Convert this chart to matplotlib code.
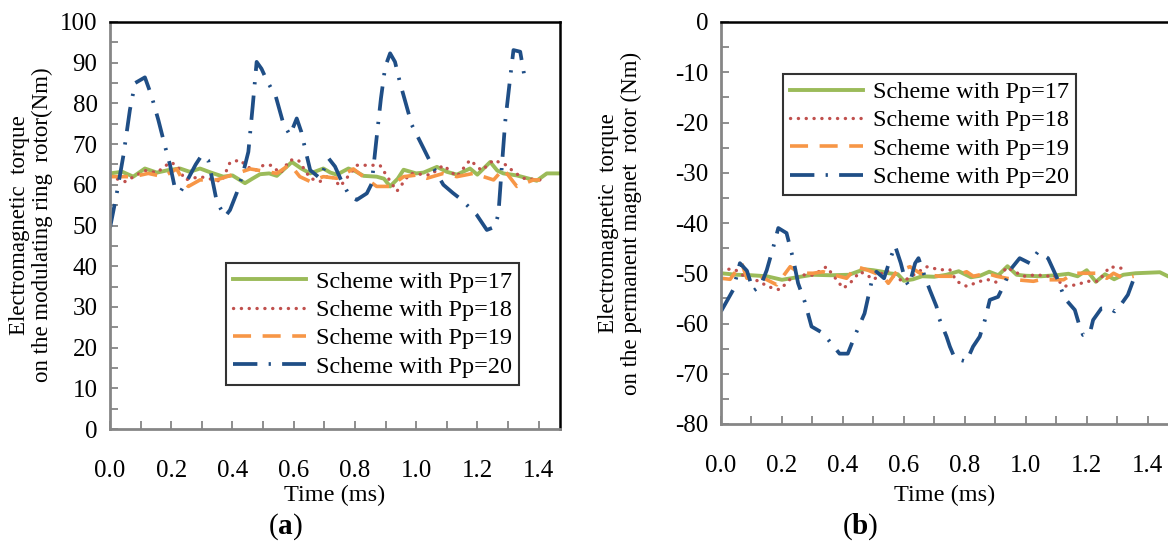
import numpy as np
import matplotlib
matplotlib.use('Agg')
import matplotlib.pyplot as plt
from matplotlib.ticker import MultipleLocator, FuncFormatter

plt.rcParams['font.family'] = ['Liberation Serif', 'DejaVu Serif']
plt.rcParams['mathtext.fontset'] = 'custom'
plt.rcParams['mathtext.rm'] = 'Liberation Serif'
plt.rcParams['mathtext.bf'] = 'Liberation Serif:bold'

labels = ['Scheme with Pp=17', 'Scheme with Pp=18', 'Scheme with Pp=19', 'Scheme with Pp=20']
colors = ['#9BBB59', '#C0504D', '#F79646', '#1F4E86']

# (a) torque on the modulating ring rotor
a17_t = [0.0, 0.04, 0.076, 0.114, 0.153, 0.19, 0.229, 0.26, 0.294, 0.33, 0.37, 0.40, 0.441, 0.465,
         0.49, 0.52, 0.545, 0.594, 0.625, 0.654, 0.697, 0.72, 0.741, 0.779, 0.80, 0.828, 0.871, 0.895,
         0.915, 0.94, 0.959, 1.0, 1.024, 1.068, 1.10, 1.133, 1.176, 1.2, 1.242, 1.265, 1.285, 1.329,
         1.394, 1.427, 1.47]
a17_v = [62.8, 63.2, 62.0, 64.0, 63.0, 63.6, 64.0, 63.2, 64.0, 63.0, 62.0, 62.3, 60.4, 61.5,
         62.6, 62.8, 62.2, 65.6, 64.0, 62.8, 64.0, 63.0, 62.5, 64.0, 63.4, 62.2, 62.0, 61.5,
         59.6, 61.5, 63.7, 62.8, 63.0, 64.4, 63.2, 62.5, 64.0, 62.5, 65.6, 63.5, 62.8, 62.3,
         61.0, 62.8, 62.8]
a18_t = [0.0, 0.049, 0.114, 0.153, 0.196, 0.218, 0.245, 0.294, 0.365, 0.392, 0.425, 0.447, 0.474,
         0.501, 0.528, 0.556, 0.588, 0.615, 0.654, 0.686, 0.719, 0.752, 0.806, 0.839, 0.882, 0.91,
         0.937, 0.98, 1.046, 1.089, 1.133, 1.176, 1.214, 1.253, 1.296, 1.318, 1.351, 1.405]
a18_v = [62.0, 60.8, 63.5, 63.0, 65.5, 64.9, 61.2, 62.0, 60.8, 65.5, 66.1, 64.5, 63.5,
         64.8, 64.8, 62.8, 66.1, 66.1, 61.6, 60.8, 62.5, 59.6, 64.8, 64.8, 64.8, 61.5,
         58.4, 62.8, 62.4, 64.8, 62.0, 66.1, 63.5, 66.1, 64.8, 63.2, 61.6, 61.2]
a19_t = [0.0, 0.076, 0.125, 0.174, 0.218, 0.24, 0.256, 0.294, 0.348, 0.414, 0.458, 0.49, 0.545,
         0.588, 0.62, 0.654, 0.697, 0.741, 0.795, 0.828, 0.871, 0.915, 0.959, 1.002, 1.035, 1.089,
         1.133, 1.187, 1.22, 1.253, 1.285, 1.329, 1.383, 1.405]
a19_v = [62.0, 62.0, 62.8, 62.0, 63.9, 60.8, 59.6, 61.2, 61.2, 62.8, 63.9, 63.5, 62.8,
         65.0, 62.0, 60.8, 62.0, 61.6, 63.9, 62.0, 59.6, 59.6, 62.0, 62.4, 61.6, 62.8,
         62.0, 62.8, 62.0, 61.2, 63.9, 59.6, 61.2, 61.2]
a20_t = [0.0, 0.02, 0.044, 0.065, 0.082, 0.114, 0.135, 0.158, 0.18, 0.196, 0.212, 0.23, 0.256,
         0.28, 0.3, 0.321, 0.335, 0.349, 0.376, 0.392, 0.414, 0.435, 0.452, 0.466, 0.479, 0.495,
         0.512, 0.542, 0.566, 0.588, 0.61, 0.625, 0.64, 0.654, 0.686, 0.714, 0.735, 0.757, 0.784,
         0.806, 0.839, 0.855, 0.869, 0.885, 0.899, 0.915, 0.931, 0.948, 0.986, 1.024, 1.051, 1.089,
         1.12, 1.149, 1.198, 1.231, 1.258, 1.269, 1.28, 1.291, 1.307, 1.318, 1.34, 1.356]
a20_v = [49.4, 57.0, 67.3, 78.4, 85.0, 86.4, 82.0, 75.9, 69.4, 64.9, 59.2, 58.3, 61.6,
         65.0, 67.3, 66.0, 61.0, 55.8, 52.2, 53.8, 58.0, 63.0, 68.1, 79.2, 90.2, 88.5,
         85.7, 81.6, 75.1, 72.2, 76.3, 73.0, 68.0, 63.6, 61.6, 66.5, 64.5, 60.8, 57.1,
         56.3, 57.9, 60.3, 70.2, 81.2, 89.0, 92.3, 90.2, 84.9, 74.7, 69.0, 64.9, 60.0,
         58.0, 56.3, 52.6, 48.9, 49.7, 53.0, 64.5, 75.5, 86.1, 93.1, 92.7, 85.7]

# (b) torque on the permanent magnet rotor
b17_t = [0.0, 0.05, 0.1, 0.15, 0.2, 0.25, 0.3, 0.36, 0.42, 0.47, 0.5, 0.53, 0.55, 0.58, 0.6,
         0.63, 0.66, 0.7, 0.74, 0.78, 0.82, 0.85, 0.88, 0.91, 0.94, 0.97, 1.0, 1.05, 1.1, 1.14,
         1.17, 1.2, 1.23, 1.26, 1.29, 1.32, 1.36, 1.4, 1.44, 1.47]
b17_v = [-50.0, -50.3, -50.4, -50.6, -51.3, -50.8, -50.3, -50.4, -50.3, -49.2, -49.4, -49.7,
         -50.0, -50.2, -51.5, -51.2, -50.6, -50.7, -50.3, -49.6, -50.8, -50.5, -49.7, -50.4,
         -48.6, -50.3, -50.5, -50.6, -50.4, -50.1, -50.6, -49.4, -51.7, -50.2, -51.2, -50.3,
         -50.0, -49.9, -49.8, -50.7]
b18_t = [0.0, 0.045, 0.062, 0.085, 0.128, 0.15, 0.193, 0.225, 0.258, 0.302, 0.346, 0.368, 0.401,
         0.423, 0.456, 0.478, 0.5, 0.543, 0.565, 0.598, 0.641, 0.674, 0.718, 0.751, 0.773, 0.806,
         0.85, 0.877, 0.904, 0.937, 0.992, 1.036, 1.069, 1.091, 1.124, 1.167, 1.201, 1.238, 1.276,
         1.314]
b18_v = [-49.2, -49.2, -50.0, -51.0, -51.6, -52.6, -53.3, -51.3, -50.3, -50.4, -48.7, -50.4,
         -53.0, -52.0, -49.7, -50.3, -51.3, -49.3, -50.6, -51.6, -50.0, -48.7, -49.3, -49.3,
         -51.6, -52.6, -51.6, -51.3, -51.8, -48.8, -50.6, -50.3, -50.6, -50.3, -52.6, -52.3,
         -51.6, -51.6, -48.7, -49.0]
b19_t = [0.0, 0.03, 0.068, 0.085, 0.128, 0.183, 0.227, 0.259, 0.302, 0.335, 0.368, 0.412, 0.445,
         0.478, 0.532, 0.549, 0.576, 0.62, 0.653, 0.674, 0.718, 0.762, 0.806, 0.828, 0.871, 0.904,
         0.937, 0.97, 1.025, 1.047, 1.08, 1.124, 1.157, 1.19, 1.234, 1.266, 1.288, 1.321, 1.354]
b19_v = [-51.0, -51.2, -48.0, -51.0, -50.6, -52.3, -48.7, -50.0, -50.0, -49.7, -50.3, -51.0,
         -48.7, -49.3, -50.6, -52.0, -49.7, -48.7, -50.0, -50.3, -50.6, -50.6, -49.7, -50.6,
         -50.0, -50.6, -51.0, -51.3, -51.6, -51.3, -51.3, -51.3, -50.0, -50.0, -50.0, -51.0,
         -50.0, -51.0, -50.6]
b20_t = [0.0, 0.04, 0.062, 0.085, 0.106, 0.13, 0.15, 0.172, 0.188, 0.215, 0.237, 0.253, 0.275,
         0.297, 0.334, 0.389, 0.416, 0.443, 0.471, 0.493, 0.51, 0.535, 0.554, 0.571, 0.59, 0.605,
         0.617, 0.637, 0.648, 0.669, 0.685, 0.707, 0.716, 0.74, 0.751, 0.767, 0.805, 0.827, 0.849,
         0.866, 0.882, 0.909, 0.931, 0.948, 0.98, 1.013, 1.04, 1.073, 1.101, 1.128, 1.161, 1.177,
         1.188, 1.21, 1.221, 1.248, 1.275, 1.292, 1.308, 1.335, 1.357, 1.368]
b20_v = [-57.6, -53.3, -48.0, -49.5, -53.5, -52.5, -49.4, -44.7, -41.0, -42.0, -47.2, -52.0,
         -55.7, -60.6, -61.9, -66.0, -66.0, -61.9, -58.0, -52.0, -49.7, -51.0, -47.4, -44.5,
         -48.0, -51.5, -52.5, -48.0, -47.0, -50.7, -53.3, -56.6, -59.0, -62.6, -64.6, -66.9,
         -67.6, -64.6, -62.6, -59.3, -55.3, -54.7, -52.0, -49.4, -47.0, -48.0, -45.7, -47.0,
         -50.7, -55.0, -57.3, -60.6, -62.3, -62.0, -59.3, -57.0, -57.0, -57.6, -56.6, -54.3,
         -50.7, -49.7]

styles = [dict(lw=2.8, ls='-'),
          dict(lw=2.4, ls=(0, (0.05, 2.3)), dash_capstyle='round'),
          dict(lw=2.6, ls=(0, (5, 3.2))),
          dict(lw=2.7, ls=(0, (6.5, 3, 0.6, 3)))]

W, H = 1168, 548
fig = plt.figure(figsize=(W / 100, H / 100), dpi=100)
ax1 = fig.add_axes([110 / W, 1 - 429 / H, 450 / W, 407 / H])
ax2 = fig.add_axes([721 / W, 1 - 424 / H, 448 / W, 402 / H])

series_a = [(a17_t, a17_v), (a18_t, a18_v), (a19_t, a19_v), (a20_t, a20_v)]
series_b = [(b17_t, b17_v), (b18_t, b18_v), (b19_t, b19_v), (b20_t, b20_v)]

for ax, series in [(ax1, series_a), (ax2, series_b)]:
    for (t, v), lab, c, st in zip(series, labels, colors, styles):
        ax.plot(t, v, color=c, label=lab, **st)

ax1.set_ylim(0, 100)
ax2.set_ylim(-80, 0)
for ax in (ax1, ax2):
    ax.set_xlim(0, 1.47)
    ax.xaxis.set_major_locator(MultipleLocator(0.1))
    ax.xaxis.set_major_formatter(FuncFormatter(
        lambda x, p: '%.1f' % x if round(x * 10) % 2 == 0 else ''))
    ax.yaxis.set_major_locator(MultipleLocator(5))
    ax.yaxis.set_major_formatter(FuncFormatter(
        lambda y, p: '%d' % round(y) if round(y) % 10 == 0 else ''))
    ax.tick_params(direction='in', length=6, width=1.3, color='#868686',
                   labelsize=18, pad=9)
    ax.tick_params(axis='x', pad=22)
    for s in ['left', 'bottom']:
        ax.spines[s].set_color('#868686')
        ax.spines[s].set_linewidth(2.0)
    for s in ['top', 'right']:
        ax.spines[s].set_color('black')
        ax.spines[s].set_linewidth(1.8)
ax2.spines['right'].set_visible(False)

leg_kw = dict(fontsize=17.5, frameon=True, fancybox=False, edgecolor='black',
              handlelength=3.0, handletextpad=0.4, labelspacing=0.26,
              borderpad=0.3, borderaxespad=0)
l1 = ax1.legend(loc='lower left', bbox_to_anchor=(0.258, 0.108), **leg_kw)
l2 = ax2.legend(loc='upper left', bbox_to_anchor=(0.138, 0.871), **leg_kw)
for l in (l1, l2):
    l.get_frame().set_linewidth(1.5)

ylab_a = 'Electromagnetic  torque\non the modulating ring  rotor(Nm)'
ylab_b = 'Electromagnetic  torque\non the permanent magnet  rotor (Nm)'
fig.text(31 / W, 1 - 225 / H, ylab_a, rotation=90, ha='center', va='center',
         fontsize=16.5, linespacing=1.15, multialignment='center')
fig.text(620 / W, 1 - 223 / H, ylab_b, rotation=90, ha='center', va='center',
         fontsize=16.5, linespacing=1.15, multialignment='center')

fig.text(335 / W, 1 - 495 / H, 'Time (ms)', ha='center', va='center', fontsize=17.5)
fig.text(945 / W, 1 - 495 / H, 'Time (ms)', ha='center', va='center', fontsize=17.5)
fig.text(285 / W, 1 - 527 / H, r'($\mathbf{a}$)', ha='center', va='center', fontsize=21)
fig.text(860 / W, 1 - 527 / H, r'($\mathbf{b}$)', ha='center', va='center', fontsize=21)

fig.savefig('out.png', dpi=100)
